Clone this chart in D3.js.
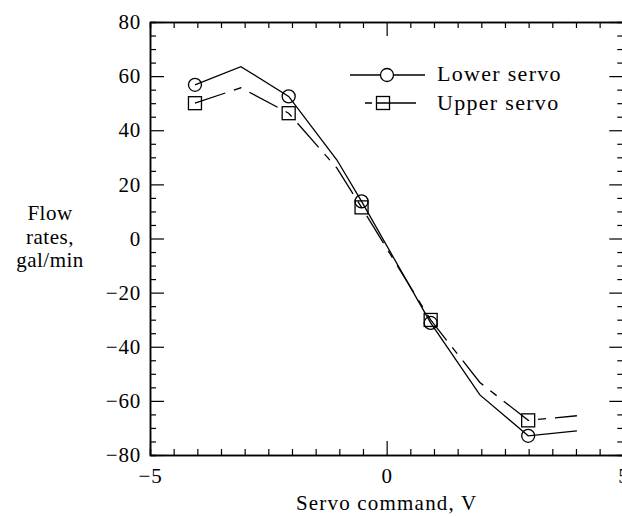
<!DOCTYPE html>
<html>
<head>
<meta charset="utf-8">
<script src="https://cdn.jsdelivr.net/npm/d3@7"></script>
<style>
  body { margin: 0; background: #fff; }
</style>
</head>
<body>
<div id="chart"></div>
<script>
(function(){

    // line vertices (servo command, V) and flow rates (gal/min)
    const lineX = [-4.05, -3.08, -2.07, -1.05, -0.53, 0.93, 1.97, 2.99, 4.02];
    const lowerLine = [56.8, 63.5, 52.5, 29, 13.7, -31.2, -57.8, -72.9, -71.1];
    const upperLine = [50.0, 55.7, 46.3, 26, 11.5, -30.1, -53.2, -67.2, -65.5];

    // measured points carrying symbols
    const markX = [-4.05, -2.07, -0.53, 0.93, 2.99];
    const lowerMarks = [56.8, 52.5, 13.7, -31.2, -72.9];
    const upperMarks = [50.0, 46.3, 11.5, -30.1, -67.2];

    const xMajor = [-5, 0, 5];
    const yMajor = [-80, -60, -40, -20, 0, 20, 40, 60, 80];

    const series = [
        { name: "Lower servo", line: lowerLine, marks: lowerMarks, symbol: "circle", dash: null },
        { name: "Upper servo", line: upperLine, marks: upperMarks, symbol: "square", dash: "32,9,8,9" }
    ];

    const width = 622, height = 517;
    const margin = { top: 22, right: -1.3, bottom: 62, left: 150 };
    const serif = "Liberation Serif";

    const svg = d3.select("#chart").append("svg")
        .attr("width", width)
        .attr("height", height)
        .attr("font-family", serif);

    const x = d3.scaleLinear().domain([-5, 5]).range([margin.left, width - margin.right]);
    const y = d3.scaleLinear().domain([-80, 80]).range([height - margin.bottom, margin.top]);

    const xMinor = d3.range(-5, 5.01, 0.5).filter(v => !xMajor.includes(v));
    const yMinor = d3.range(-80, 80.1, 5).filter(v => !yMajor.includes(v));

    // reference typeface runs wide, so labels get a little letter-spacing
    function styleAxis(g) {
        g.attr("font-family", serif).attr("font-size", 21);
        g.select(".domain").attr("stroke", "#000").attr("stroke-width", 1.5);
        g.selectAll(".tick line").attr("stroke", "#000").attr("stroke-width", 1.2);
        g.selectAll("text").attr("font-family", serif).attr("font-size", 21)
            .attr("letter-spacing", 0.8).attr("fill", "#000");
    }

    const bottomY = y(-80), topY = y(80), leftX = x(-5), rightX = x(5);

    // minor ticks first (no labels)
    svg.append("g").attr("transform", `translate(0,${bottomY})`)
        .call(d3.axisBottom(x).tickValues(xMinor).tickSize(-6).tickFormat(""))
        .call(styleAxis);
    svg.append("g").attr("transform", `translate(0,${topY})`)
        .call(d3.axisTop(x).tickValues(xMinor).tickSize(-6).tickFormat(""))
        .call(styleAxis);
    svg.append("g").attr("transform", `translate(${leftX},0)`)
        .call(d3.axisLeft(y).tickValues(yMinor).tickSize(-6).tickFormat(""))
        .call(styleAxis);
    svg.append("g").attr("transform", `translate(${rightX},0)`)
        .call(d3.axisRight(y).tickValues(yMinor).tickSize(-6).tickFormat(""))
        .call(styleAxis);

    // major ticks
    svg.append("g").attr("transform", `translate(0,${bottomY})`)
        .call(d3.axisBottom(x).tickValues(xMajor).tickSize(-14).tickSizeOuter(0).tickPadding(13))
        .call(styleAxis);

    svg.append("g").attr("transform", `translate(0,${topY})`)
        .call(d3.axisTop(x).tickValues(xMajor).tickSize(-14).tickSizeOuter(0).tickFormat(""))
        .call(styleAxis);

    svg.append("g").attr("transform", `translate(${leftX},0)`)
        .call(d3.axisLeft(y).tickValues(yMajor).tickSize(-14).tickSizeOuter(0).tickPadding(9))
        .call(styleAxis);

    svg.append("g").attr("transform", `translate(${rightX},0)`)
        .call(d3.axisRight(y).tickValues(yMajor).tickSize(-14).tickSizeOuter(0).tickFormat(""))
        .call(styleAxis);

    // data lines
    const line = d3.line().x(d => x(d[0])).y(d => y(d[1]));

    series.forEach(s => {
        svg.append("path")
            .datum(lineX.map((v, i) => [v, s.line[i]]))
            .attr("d", line)
            .attr("fill", "none")
            .attr("stroke", "#000")
            .attr("stroke-width", 1.3)
            .attr("stroke-dasharray", s.dash);

        const pts = markX.map((v, i) => [v, s.marks[i]]);
        if (s.symbol === "circle") {
            svg.append("g").selectAll("circle").data(pts).enter().append("circle")
                .attr("cx", d => x(d[0])).attr("cy", d => y(d[1])).attr("r", 6.5)
                .attr("fill", "none").attr("stroke", "#000").attr("stroke-width", 1.3);
        } else {
            svg.append("g").selectAll("rect").data(pts).enter().append("rect")
                .attr("x", d => x(d[0]) - 6.5).attr("y", d => y(d[1]) - 6.5)
                .attr("width", 13).attr("height", 13)
                .attr("fill", "none").attr("stroke", "#000").attr("stroke-width", 1.3);
        }
    });

    // legend
    const legend = svg.append("g");
    legend.append("line").attr("x1", 350).attr("x2", 425).attr("y1", 75).attr("y2", 75)
        .attr("stroke", "#000").attr("stroke-width", 1.3);
    legend.append("circle").attr("cx", 387).attr("cy", 75).attr("r", 6.5)
        .attr("fill", "#fff").attr("stroke", "#000").attr("stroke-width", 1.3);
    legend.append("text").attr("x", 437).attr("y", 81)
        .attr("font-family", serif).attr("font-size", 22).attr("letter-spacing", 1.3)
        .text(series[0].name);

    legend.append("line").attr("x1", 365).attr("x2", 416).attr("y1", 103).attr("y2", 103)
        .attr("stroke", "#000").attr("stroke-width", 1.3).attr("stroke-dasharray", "7,5,50");
    legend.append("rect").attr("x", 376.5).attr("y", 96.5).attr("width", 13).attr("height", 13)
        .attr("fill", "none").attr("stroke", "#000").attr("stroke-width", 1.3);
    legend.append("text").attr("x", 437).attr("y", 110)
        .attr("font-family", serif).attr("font-size", 22).attr("letter-spacing", 1.3)
        .text(series[1].name);

    // axis titles
    svg.append("text").attr("x", (leftX + rightX) / 2).attr("y", 510)
        .attr("text-anchor", "middle").attr("font-family", serif).attr("font-size", 21)
        .attr("letter-spacing", 1.2)
        .text("Servo command, V");

    ["Flow", "rates,", "gal/min"].forEach((t, i) => {
        svg.append("text").attr("x", 50).attr("y", 220 + i * 23.5)
            .attr("text-anchor", "middle").attr("font-family", serif).attr("font-size", 21)
            .attr("letter-spacing", 0.5)
            .text(t);
    });

})();
</script>
</body>
</html>
